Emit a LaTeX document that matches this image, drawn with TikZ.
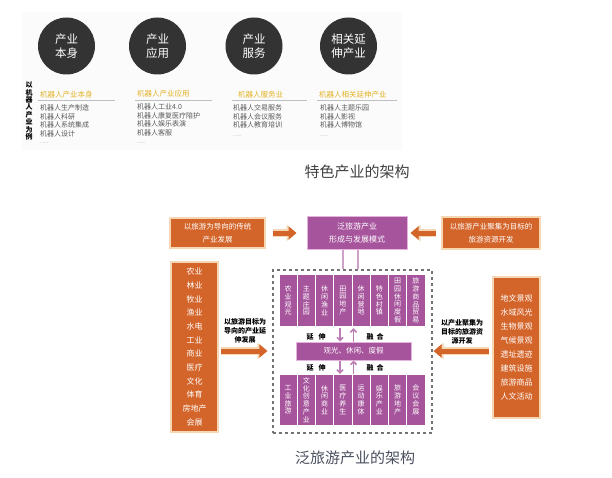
\documentclass[tikz,border=0pt]{standalone}
\usepackage{fontspec}
\setmainfont{Noto Sans CJK SC}
\usetikzlibrary{arrows.meta}

\definecolor{orng}{RGB}{212,101,42}
\definecolor{cream}{RGB}{245,215,180}
\definecolor{purp}{RGB}{166,84,156}
\definecolor{lpurp}{RGB}{228,180,220}
\definecolor{gold}{RGB}{226,178,36}
\definecolor{ballc}{RGB}{51,51,51}
\definecolor{capc}{RGB}{75,80,95}

\begin{document}
\begin{tikzpicture}[x=1pt, y=-1pt,
  ball/.style={shape=circle, fill=ballc, minimum size=57pt, inner sep=0pt, text=white, align=center, font=\fontsize{11.5}{13.5}\selectfont},
  head/.style={anchor=west, text=gold, inner sep=0pt, font=\fontsize{7.5}{8}\selectfont},
  item/.style={anchor=west, text=black!65, inner sep=0pt, font=\fontsize{7}{8}\selectfont},
  dots/.style={anchor=west, text=black!40, inner sep=0pt, font=\fontsize{5}{5}\selectfont},
  obox/.style={draw=cream, line width=1.5pt, fill=orng, text=white, align=center, inner sep=0pt, font=\fontsize{7.5}{13}\selectfont},
  pbox/.style={draw=lpurp, line width=1pt, fill=purp, text=white, align=center, inner sep=0pt, font=\fontsize{7.5}{13}\selectfont},
  cell/.style={fill=purp, text=white, align=center, inner sep=0pt, minimum width=17.25pt, font=\fontsize{7}{7.8}\selectfont},
  note/.style={align=center, inner sep=0pt, font=\bfseries\fontsize{7}{9}\selectfont},
  barrow/.style={draw=orng, line width=5pt, -{Triangle[length=8pt,width=13pt]}, preaction={draw=cream, line width=7.5pt, -{Triangle[length=10pt,width=16pt]}}},
  parrow/.style={draw=purp!75, line width=1.6pt, -{Straight Barb[length=3pt,width=6pt]}},
  dline/.style={draw=purp!55, line width=2.5pt}
]
\useasboundingbox (0,0) rectangle (612,478);
\fill[black!1.5] (22,12) rectangle (402,150);

\node[ball] (c1) at (66.5,46) {产业\\本身};
\node[ball] (c2) at (157.5,46) {产业\\应用};
\node[ball] (c3) at (254,46) {产业\\服务};
\node[ball] (c4) at (348.5,46) {相关延\\伸产业};

\node[note, font=\bfseries\fontsize{7}{7.4}\selectfont] (ex) at (29,111) {以\\机\\器\\人\\产\\业\\为\\例};

\node[head] (h1) at (40,95) {机器人产业本身};
\node[head] (h2) at (137,94) {机器人产业应用};
\node[head] (h3) at (238,95) {机器人服务业};
\node[head] (h4) at (319,95) {机器人相关延伸产业};

\draw[black!25, line width=0.6pt] (38,100) -- (115,100);
\draw[black!25, line width=0.6pt] (135,100) -- (212,100);
\draw[black!25, line width=0.6pt] (232,100) -- (307,100);
\draw[black!25, line width=0.6pt] (317,100) -- (397,100);

\foreach \t [count=\i] in {机器人生产制造,机器人科研,机器人系统集成,机器人设计}
  \node[item] (a\i) at (40,{99.5+8.5*\i}) {\t};
\foreach \t [count=\i] in {机器人工业4.0,机器人康复医疗陪护,机器人娱乐表演,机器人客服}
  \node[item] (b\i) at (137,{98.5+8.5*\i}) {\t};
\foreach \t [count=\i] in {机器人交易服务,机器人会议服务,机器人教育培训}
  \node[item] (s\i) at (233,{99.5+8.5*\i}) {\t};
\foreach \t [count=\i] in {机器人主题乐园,机器人影视,机器人博物馆}
  \node[item] (r\i) at (320,{99.5+8.5*\i}) {\t};
\node[dots] (d1) at (40,143) {......};
\node[dots] (d2) at (137,143) {......};
\node[dots] (d3) at (233,136) {......};
\node[dots] (d4) at (320,136) {......};

\node[text=black!75, font=\fontsize{15}{16}\selectfont] (cap1) at (357,172) {特色产业的架构};

\node[obox, minimum width=95pt, minimum height=30pt] (tl) at (217.5,233) {以旅游为导向的传统\\产业发展};
\node[pbox, minimum width=100pt, minimum height=33pt, font=\fontsize{8}{13}\selectfont] (ctop) at (357,233) {泛旅游产业\\形成与发展模式};
\node[obox, minimum width=98pt, minimum height=32pt] (tr) at (491,233) {以旅游产业聚集为目标的\\旅游资源开发};

\draw[barrow, shorten <=7pt, shorten >=10pt] (tl) to (ctop);
\draw[barrow, shorten <=5pt, shorten >=3pt] (tr) to (ctop);

\node[draw=black!55, dashed, line width=1.2pt, minimum width=159pt, minimum height=163pt] (frame) at (352.5,351.5) {};

\draw[dline] ([xshift=-14pt]ctop.south) to ([xshift=-14pt]ctop.south |- frame.north);
\draw[dline] ([xshift=1pt]ctop.south) to ([xshift=1pt]ctop.south |- frame.north);

\foreach \t [count=\i] in {{农\\业\\观\\光},{主\\题\\庄\\园},{休\\闲\\渔\\业},{田\\园\\地\\产},{休\\闲\\营\\地},{特\\色\\村\\镇},{田\\园\\休\\闲\\度\\假},{旅\\游\\商\\品\\贸\\易}}
  \node[cell, minimum height=51pt] (t\i) at ({279+18.25*(\i-0.5)},300.5) {\t};
\foreach \t [count=\i] in {{工\\业\\旅\\游},{文\\化\\创\\意\\产\\业},{休\\闲\\商\\业},{医\\疗\\养\\生},{运\\动\\康\\体},{娱\\乐\\产\\业},{旅\\游\\地\\产},{会\\议\\会\\展}}
  \node[cell, minimum height=50pt] (u\i) at ({279+18.25*(\i-0.5)},400) {\t};

\node[pbox, minimum width=115pt, minimum height=18pt, font=\fontsize{7.5}{9}\selectfont] (bar) at (353.5,351) {观光、休闲、度假};

\node[note] (e1) at (316,337) {延\hspace{5pt}伸};
\node[note] (f1) at (375,337) {融\hspace{3pt}合};
\node[note] (e2) at (316,368) {延\hspace{5pt}伸};
\node[note] (f2) at (375,368) {融\hspace{3pt}合};

\draw[parrow, shorten <=2pt] ([xshift=-13.5pt]bar.north |- t4.south) to ([xshift=-13.5pt]bar.north);
\draw[parrow, shorten >=2pt] (bar.north) to (bar.north |- t4.south);
\draw[parrow, shorten >=1pt] ([xshift=-13.5pt]bar.south) to ([xshift=-13.5pt]bar.south |- u4.north);
\draw[parrow, shorten <=1pt] (bar.south |- u4.north) to (bar.south);

\node[obox, minimum width=47pt, minimum height=170pt, font=\fontsize{8}{13.7}\selectfont] (lbox) at (194.5,347) {农业\\林业\\牧业\\渔业\\水电\\工业\\商业\\医疗\\文化\\体育\\房地产\\会展};
\node[obox, minimum width=47pt, minimum height=141pt, font=\fontsize{8}{13.9}\selectfont] (rbox) at (516.5,347.5) {地文景观\\水域风光\\生物景观\\气候景观\\遗址遗迹\\建筑设施\\旅游商品\\人文活动};

\node[note] (ln) at (245,331) {以旅游目标为\\导向的产业延\\伸发展};
\node[note] (rn) at (462,332) {以产业聚集为\\目标的旅游资\\源开发};

\draw[barrow, shorten <=2pt, shorten >=5pt] (lbox.east |- bar) to (frame.west |- bar);
\draw[barrow, shorten <=3pt, shorten >=1pt] (rbox.west |- bar) to (frame.east |- bar);

\node[text=capc, font=\fontsize{15}{16}\selectfont] (cap2) at (355,458) {泛旅游产业的架构};
\end{tikzpicture}
\end{document}
